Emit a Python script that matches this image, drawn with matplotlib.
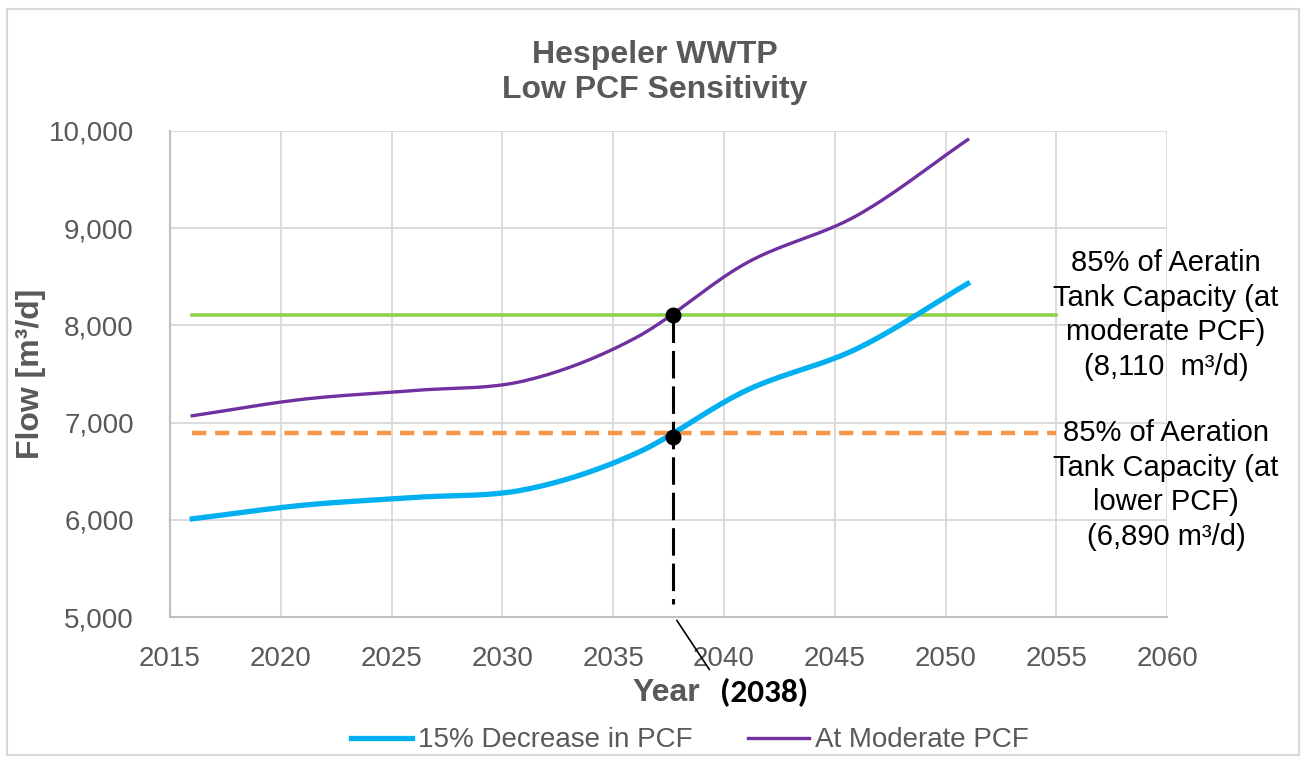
import numpy as np
import matplotlib
matplotlib.use("Agg")
import matplotlib.pyplot as plt
from matplotlib.patches import Rectangle

# data
years = [2016, 2021, 2026, 2031, 2036, 2041, 2046, 2051]
flow_low = [6010, 6150, 6230, 6310, 6680, 7330, 7760, 8430]
flow_moderate = [7070, 7240, 7330, 7430, 7870, 8640, 9130, 9910]
cap_years = [2016, 2055]
cap_moderate = 8110
cap_lower = 6890
cross_year = 2037.7
cross_flows = [8110, 6850]
cross_bottom = 5130

GRAY = "#595959"
plt.rcParams['font.family'] = ['Liberation Sans Narrow', 'Liberation Sans', 'DejaVu Sans']


def smooth(x, y, n=20):
    # catmull-rom, like excel's smoothed line
    x = np.asarray(x, float)
    y = np.asarray(y, float)
    px = np.concatenate([[2 * x[0] - x[1]], x, [2 * x[-1] - x[-2]]])
    py = np.concatenate([[2 * y[0] - y[1]], y, [2 * y[-1] - y[-2]]])
    xs, ys = [], []
    t = np.linspace(0, 1, n, endpoint=False)
    for i in range(1, len(px) - 2):
        for p, out in ((px, xs), (py, ys)):
            p0, p1, p2, p3 = p[i - 1], p[i], p[i + 1], p[i + 2]
            out.extend(0.5 * ((2 * p1) + (-p0 + p2) * t
                              + (2 * p0 - 5 * p1 + 4 * p2 - p3) * t ** 2
                              + (-p0 + 3 * p1 - 3 * p2 + p3) * t ** 3))
    xs.append(x[-1])
    ys.append(y[-1])
    return np.array(xs), np.array(ys)


fig = plt.figure(figsize=(13.09, 7.61), dpi=100)
fig.patches.append(Rectangle((0.005, 0.008), 0.987, 0.98, transform=fig.transFigure,
                             fill=False, edgecolor="#d9d9d9", lw=1.5))
ax = fig.add_axes([0.1299, 0.1892, 0.7617, 0.6387])

sx, sy = smooth(years, flow_moderate)
ax.plot(sx, sy, color="#7030a0", lw=2.4, label="At Moderate PCF", zorder=3)
sx, sy = smooth(years, flow_low)
ax.plot(sx, sy, color="#00b0f0", lw=3.8, label="15% Decrease in PCF", zorder=3)

ax.plot(cap_years, [cap_moderate] * 2, color="#92d050", lw=2.6, zorder=2)
ax.plot(cap_years, [cap_lower] * 2, color="#f79646", lw=3.2, ls=(0, (3.2, 2.0)), zorder=2)

ax.plot([cross_year, cross_year], [cross_flows[0], cross_bottom], color="black",
        lw=2.2, ls=(0, (9, 2.6)), zorder=4)
ax.scatter([cross_year] * 2, cross_flows, s=110, color="black", zorder=5)

ax.set_xlim(2015, 2060)
ax.set_ylim(5000, 10000)
ax.set_xticks(range(2015, 2061, 5))
ax.set_yticks(range(5000, 10001, 1000))
ax.yaxis.set_major_formatter(matplotlib.ticker.FuncFormatter(lambda v, p: f"{int(v):,}"))
ax.grid(color="#d9d9d9", lw=1.3)
ax.set_axisbelow(True)
for s in ["top", "right"]:
    ax.spines[s].set_visible(False)
for s in ["left", "bottom"]:
    ax.spines[s].set_color("#bfbfbf")
    ax.spines[s].set_linewidth(1.5)
ax.tick_params(length=0, labelsize=20, colors=GRAY)
ax.tick_params(axis="y", pad=26)
ax.tick_params(axis="x", pad=21)

ax.set_ylabel("Flow [m³/d]", fontsize=23, fontweight="bold", color=GRAY, labelpad=2,
              family=['Liberation Sans', 'DejaVu Sans'])

fig.text(0.5004, 0.905, "Hespeler WWTP\nLow PCF Sensitivity", ha="center", va="center",
         fontsize=23, fontweight="bold", color=GRAY, linespacing=1.2,
         family=['Liberation Sans', 'DejaVu Sans'])

ax.text(0.999, 0.621, "85% of Aeratin\nTank Capacity (at\nmoderate PCF)\n(8,110  m³/d)",
        transform=ax.transAxes, ha="center", va="center", fontsize=21, linespacing=1.3)
ax.text(0.999, 0.272, "85% of Aeration\nTank Capacity (at\nlower PCF)\n(6,890 m³/d)",
        transform=ax.transAxes, ha="center", va="center", fontsize=21, linespacing=1.3)

fig.text(0.509, 0.0894, "Year", ha="center", va="center", fontsize=23,
         fontweight="bold", color=GRAY, family=['Liberation Sans', 'DejaVu Sans'])
fig.text(0.5835, 0.0894, "(2038)", ha="center", va="center", fontsize=24,
         fontweight="bold", color="black", family=['Carlito', 'Liberation Sans', 'DejaVu Sans'])
ax.annotate("", xy=(cross_year + 0.1, 4990), xytext=(711, 761 - 672), textcoords="figure pixels",
            arrowprops=dict(arrowstyle="-", color="black", lw=1.2), annotation_clip=False)

h, l = ax.get_legend_handles_labels()
fig.legend(h[::-1], l[::-1], loc="center", bbox_to_anchor=(0.527, 0.027), ncol=2,
           frameon=False, fontsize=20, labelcolor=GRAY, handlelength=2.2,
           handletextpad=0.2, columnspacing=2.0)

fig.savefig("out.png", dpi=100)
